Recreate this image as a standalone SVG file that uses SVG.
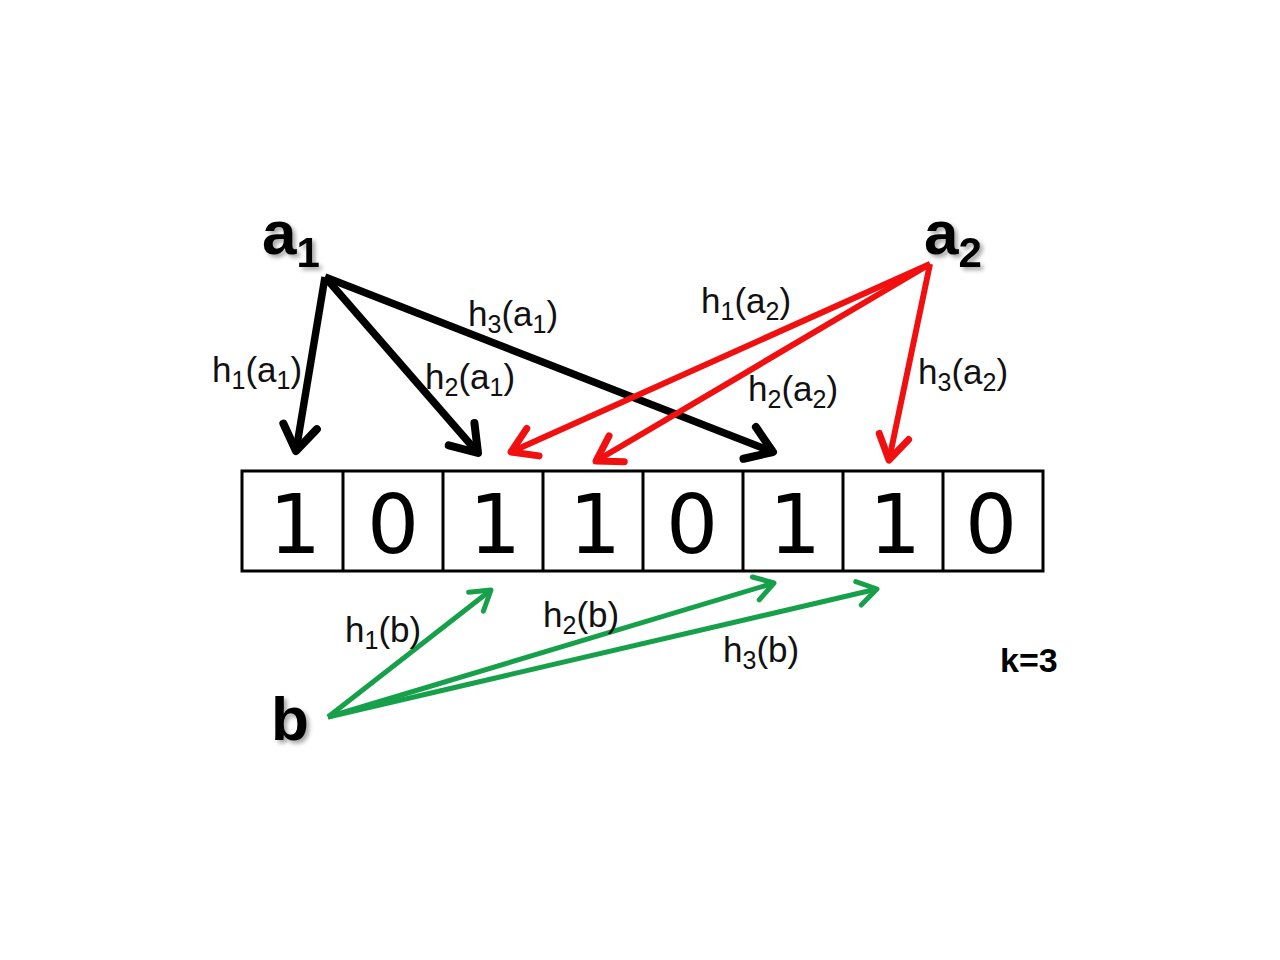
<svg xmlns="http://www.w3.org/2000/svg" width="1280" height="960" viewBox="0 0 1280 960">
<style>
.lbl{font-family:"Liberation Sans",Arial,sans-serif;font-size:35px;fill:#111}
.sub{font-size:25px}
.big{font-family:"Liberation Sans",Arial,sans-serif;font-weight:bold;font-size:62px;fill:#000}
.bigsub{font-size:42px}
.digit{font-family:"DejaVu Sans",sans-serif;font-size:82px;fill:#000;text-anchor:middle}
.cell{fill:#fff;stroke:#000;stroke-width:3}
.blk{stroke:#000;stroke-width:7.5;fill:none;marker-end:url(#mBlk)}
.red{stroke:#f01010;stroke-width:6;fill:none;marker-end:url(#mRed)}
.grn{stroke:#17a04a;stroke-width:5;fill:none;marker-end:url(#mGrn)}
</style>
<defs>
<filter id="sh" x="-20%" y="-20%" width="140%" height="140%">
<feDropShadow dx="3" dy="3" stdDeviation="2" flood-color="#000" flood-opacity="0.35"/>
</filter>
<marker id="mBlk" markerUnits="userSpaceOnUse" orient="auto" overflow="visible" markerWidth="1" markerHeight="1" refX="0" refY="0">
<path d="M-25,-17 L0,0 L-25,17" fill="none" stroke="#000" stroke-width="8" stroke-linecap="round" stroke-linejoin="round"/>
</marker>
<marker id="mRed" markerUnits="userSpaceOnUse" orient="auto" overflow="visible" markerWidth="1" markerHeight="1" refX="0" refY="0">
<path d="M-24,-15 L0,0 L-24,15" fill="none" stroke="#f01010" stroke-width="7" stroke-linecap="round" stroke-linejoin="round"/>
</marker>
<marker id="mGrn" markerUnits="userSpaceOnUse" orient="auto" overflow="visible" markerWidth="1" markerHeight="1" refX="0" refY="0">
<path d="M-19,-12 L0,0 L-19,12" fill="none" stroke="#17a04a" stroke-width="5" stroke-linecap="round" stroke-linejoin="round"/>
</marker>
</defs>
<rect width="1280" height="960" fill="#fff"/>

<g id="bitarray">
<rect class="cell" x="242" y="471" width="801" height="100"/>
<path d="M343,471V571M443,471V571M543,471V571M643,471V571M743,471V571M843,471V571M943,471V571" stroke="#000" stroke-width="3"/>
<text class="digit" x="295" y="553">1</text>
<text class="digit" x="393" y="553">0</text>
<text class="digit" x="495" y="553">1</text>
<text class="digit" x="595" y="553">1</text>
<text class="digit" x="692" y="553">0</text>
<text class="digit" x="795" y="553">1</text>
<text class="digit" x="895" y="553">1</text>
<text class="digit" x="991" y="553">0</text>
</g>

<g id="node-a1"><text class="big" x="262" y="254" filter="url(#sh)">a<tspan class="bigsub" dy="13">1</tspan></text></g>
<g id="node-a2"><text class="big" x="924" y="254" filter="url(#sh)">a<tspan class="bigsub" dy="13">2</tspan></text></g>
<g id="node-b"><text class="big" x="271" y="740" filter="url(#sh)">b</text></g>
<g id="node-k"><text class="big" x="1000" y="672" style="font-size:34px">k=3</text></g>

<g id="connectors">
<path class="blk" d="M325,277L296,451"/>
<path class="blk" d="M325,277L478,453"/>
<path class="blk" d="M325,277L773,452"/>
<path class="red" d="M930,264L511,452"/>
<path class="red" d="M930,264L596,461"/>
<path class="red" d="M930,264L889,460"/>
<path class="grn" d="M328,717L491,590"/>
<path class="grn" d="M328,717L774,583"/>
<path class="grn" d="M328,717L877,589"/>
</g>

<g id="labels">
<text class="lbl" x="212" y="382">h<tspan class="sub" dy="7">1</tspan><tspan dy="-7">(a</tspan><tspan class="sub" dy="7">1</tspan><tspan dy="-7">)</tspan></text>
<text class="lbl" x="425" y="389">h<tspan class="sub" dy="7">2</tspan><tspan dy="-7">(a</tspan><tspan class="sub" dy="7">1</tspan><tspan dy="-7">)</tspan></text>
<text class="lbl" x="468" y="326">h<tspan class="sub" dy="7">3</tspan><tspan dy="-7">(a</tspan><tspan class="sub" dy="7">1</tspan><tspan dy="-7">)</tspan></text>
<text class="lbl" x="701" y="313">h<tspan class="sub" dy="7">1</tspan><tspan dy="-7">(a</tspan><tspan class="sub" dy="7">2</tspan><tspan dy="-7">)</tspan></text>
<text class="lbl" x="748" y="401">h<tspan class="sub" dy="7">2</tspan><tspan dy="-7">(a</tspan><tspan class="sub" dy="7">2</tspan><tspan dy="-7">)</tspan></text>
<text class="lbl" x="918" y="384">h<tspan class="sub" dy="7">3</tspan><tspan dy="-7">(a</tspan><tspan class="sub" dy="7">2</tspan><tspan dy="-7">)</tspan></text>
<text class="lbl" x="345" y="642">h<tspan class="sub" dy="7">1</tspan><tspan dy="-7">(b)</tspan></text>
<text class="lbl" x="543" y="627">h<tspan class="sub" dy="7">2</tspan><tspan dy="-7">(b)</tspan></text>
<text class="lbl" x="723" y="662">h<tspan class="sub" dy="7">3</tspan><tspan dy="-7">(b)</tspan></text>
</g>
</svg>
